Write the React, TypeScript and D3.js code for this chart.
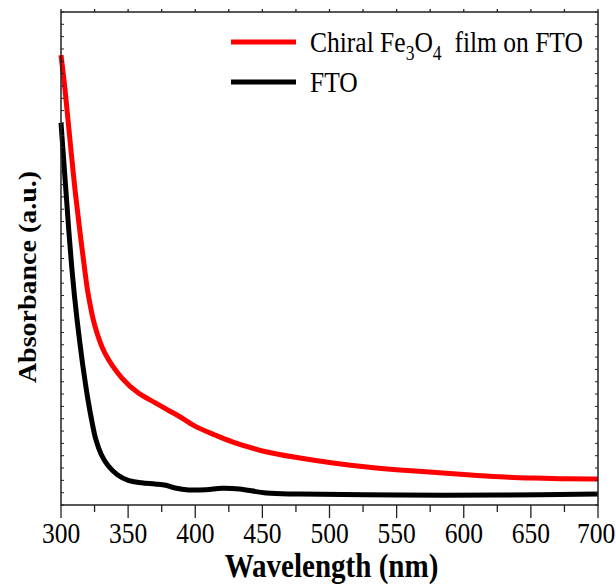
import React from "react";
import * as d3 from "d3";

// wavelength (nm) and absorbance (a.u.)
const redWave = [300, 303, 306.7, 310.4, 314.2, 317.9, 320.1, 325.3, 332.8, 345.4, 357.4, 370, 379.7, 390.1, 399.8, 414.7, 428.1, 453.4, 478, 502.6, 527.9, 552.5, 577.1, 602.4, 627, 651.6, 676.9, 700];
const redAbs = [3.65, 3.37, 2.96, 2.56, 2.21, 1.89, 1.72, 1.45, 1.23, 1.03, 0.91, 0.83, 0.77, 0.706, 0.64, 0.568, 0.511, 0.43, 0.381, 0.341, 0.308, 0.284, 0.265, 0.245, 0.229, 0.219, 0.212, 0.211];

const ftoWave = [300, 302, 304, 306, 308, 310, 312, 314, 316, 318, 320, 323, 326, 330, 335, 342, 350, 360, 370, 378, 385, 395, 408, 420, 433, 453, 478, 552, 627, 700];
const ftoAbs = [3.1, 2.8, 2.5, 2.2, 1.93, 1.7, 1.5, 1.32, 1.15, 1.0, 0.86, 0.68, 0.53, 0.41, 0.32, 0.245, 0.2, 0.18, 0.17, 0.16, 0.138, 0.122, 0.124, 0.136, 0.13, 0.097, 0.089, 0.081, 0.081, 0.089];

const xTicks = [300, 350, 400, 450, 500, 550, 600, 650, 700];

const W = 616;
const H = 585;
const left = 61, right = 598, top = 12, bottom = 505;
const font = "'Liberation Serif', 'Times New Roman', serif";
const sx = 0.88; // the figure's text is a bit narrow

export default function App() {
  const x = d3.scaleLinear().domain([300, 700]).range([left, right]);
  const y = d3.scaleLinear().domain([0, 4]).range([bottom, top]);

  const line = d3
    .line<[number, number]>()
    .x((d) => x(d[0]))
    .y((d) => y(d[1]))
    .curve(d3.curveCatmullRom.alpha(0.5));

  const redPath = line(redWave.map((w, i) => [w, redAbs[i]]));
  const ftoPath = line(ftoWave.map((w, i) => [w, ftoAbs[i]]));

  const minorX = d3.range(300, 701, 25);
  const minorY = d3.range(0, 41).map((i) => i / 10);

  return (
    <svg
      width={W}
      height={H}
      style={{ position: "absolute", left: 0, top: 0, background: "#fff" }}
    >
      {/* curves */}
      <path d={ftoPath} fill="none" stroke="#000" strokeWidth={5} strokeLinejoin="round" />
      <path d={redPath} fill="none" stroke="#ff0000" strokeWidth={5} strokeLinejoin="round" />

      {/* frame */}
      <rect x={left} y={top} width={right - left} height={bottom - top} fill="none" stroke="#222" strokeWidth={1.5} />

      {/* bottom & top ticks */}
      {minorX.map((v) => {
        const major = v % 50 === 0;
        return (
          <g key={"xt" + v} stroke="#222" strokeWidth={1.3}>
            <line x1={x(v)} x2={x(v)} y1={bottom} y2={bottom + (major ? 13 : 7)} />
            <line x1={x(v)} x2={x(v)} y1={top} y2={top - 3} />
          </g>
        );
      })}
      {/* left & right ticks */}
      {minorY.map((v) => (
        <g key={"yt" + v} stroke="#222" strokeWidth={1}>
          <line x1={left} x2={left + 3} y1={y(v)} y2={y(v)} />
          <line x1={right} x2={right - 3} y1={y(v)} y2={y(v)} />
        </g>
      ))}

      {/* tick labels */}
      {xTicks.map((v) => (
        <text
          key={"xl" + v}
          transform={`translate(${v === 700 ? x(v) - 2 : x(v)},543) scale(${sx},1)`}
          textAnchor="middle"
          fontFamily={font}
          fontSize={29}
          fill="#000"
        >
          {v}
        </text>
      ))}

      {/* axis titles */}
      <text
        transform={`translate(${(left + right) / 2 + 2},577) scale(${sx},1)`}
        textAnchor="middle"
        fontFamily={font}
        fontWeight="bold"
        fontSize={33}
      >
        Wavelength (nm)
      </text>
      <text
        transform={`translate(36,277) scale(${sx},1) rotate(-90)`}
        textAnchor="middle"
        fontFamily={font}
        fontWeight="bold"
        fontSize={28}
      >
        Absorbance (a.u.)
      </text>

      {/* legend */}
      <line x1={231} x2={296} y1={42} y2={42} stroke="#ff0000" strokeWidth={5} />
      <text
        transform={`translate(310,52) scale(${sx},1)`}
        fontFamily={font}
        fontSize={29}
        style={{ whiteSpace: "pre" }}
      >
        Chiral Fe
        <tspan fontSize={20} dy={8}>3</tspan>
        <tspan dy={-8}>O</tspan>
        <tspan fontSize={20} dy={8}>4</tspan>
        <tspan dy={-8}>{"  film on FTO"}</tspan>
      </text>
      <line x1={231} x2={296} y1={82} y2={82} stroke="#000" strokeWidth={5} />
      <text transform={`translate(310,92) scale(${sx},1)`} fontFamily={font} fontSize={29}>
        FTO
      </text>
    </svg>
  );
}
